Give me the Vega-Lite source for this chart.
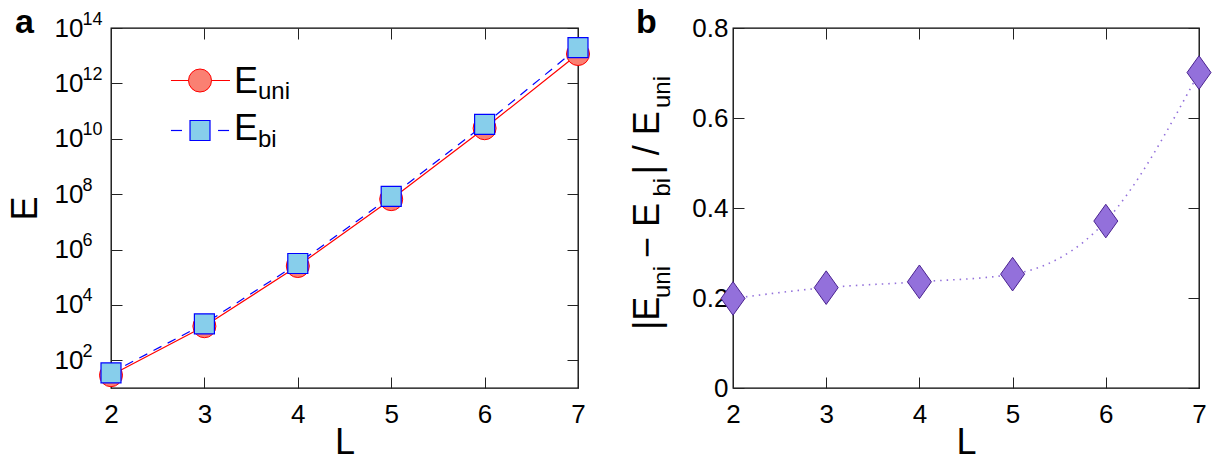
{
  "$schema": "https://vega.github.io/schema/vega-lite/v6.json",
  "background": "white",
  "padding": {"left": 6, "top": 5, "right": 0, "bottom": 0},
  "autosize": {"type": "pad"},
  "spacing": 155,
  "bounds": "flush",
  "config": {
    "font": "Liberation Sans",
    "view": {"stroke": "#000", "strokeWidth": 1.3},
    "axis": {"domain": false, "grid": false, "labelFont": "Liberation Sans", "titleFont": "Liberation Sans", "labelColor": "#000", "titleColor": "#000", "titleFontWeight": "normal", "tickColor": "#222", "tickWidth": 1, "labelFontSize": 26, "titleFontSize": 36, "labelFlush": false, "labelOverlap": false, "labelBound": false},
    "text": {"font": "Liberation Sans", "color": "#000"}
  },
  "datasets": {
    "uni": [{"L": 2, "E": 29}, {"L": 3, "E": 1700}, {"L": 4, "E": 254000}, {"L": 5, "E": 66000000}, {"L": 6, "E": 24000000000}, {"L": 7, "E": 11500000000000}],
    "bi": [{"L": 2, "E": 35}, {"L": 3, "E": 2080}, {"L": 4, "E": 313000}, {"L": 5, "E": 83000000}, {"L": 6, "E": 33000000000}, {"L": 7, "E": 19500000000000}],
    "ratio": [{"L": 2, "R": 0.199}, {"L": 3, "R": 0.223}, {"L": 4, "R": 0.236}, {"L": 5, "R": 0.253}, {"L": 6, "R": 0.371}, {"L": 7, "R": 0.701}]
  },
  "hconcat": [
    {
      "width": 467,
      "height": 360,
      "resolve": {"axis": {"x": "independent", "y": "independent"}},
      "layer": [
        {
          "data": {"name": "uni"},
          "mark": {"type": "line", "color": "#ff0000", "strokeWidth": 1.2},
          "encoding": {
            "x": {"field": "L", "type": "quantitative", "scale": {"domain": [2, 7], "nice": false, "zero": false},
                  "axis": {"orient": "bottom", "values": [2, 3, 4, 5, 6, 7], "labels": false, "title": null, "tickSize": -11}},
            "y": {"field": "E", "type": "quantitative", "scale": {"type": "log", "domain": [10, 100000000000000], "nice": false},
                  "axis": {"orient": "left", "values": [100, 10000, 1000000, 100000000, 10000000000, 1000000000000, 100000000000000], "labels": false, "title": null, "tickSize": -11}}
          }
        },
        {
          "data": {"name": "uni"},
          "mark": {"type": "point", "shape": "circle", "size": 529, "filled": true, "fill": "#fa8072", "stroke": "#ff0000", "strokeWidth": 1, "opacity": 1},
          "encoding": {
            "x": {"field": "L", "type": "quantitative", "axis": {"orient": "top", "values": [2, 3, 4, 5, 6, 7], "labels": false, "title": null, "tickSize": -11}},
            "y": {"field": "E", "type": "quantitative", "axis": {"orient": "right", "values": [100, 10000, 1000000, 100000000, 10000000000, 1000000000000, 100000000000000], "labels": false, "title": null, "tickSize": -11}}
          }
        },
        {
          "data": {"name": "bi"},
          "mark": {"type": "line", "color": "#0000ff", "strokeWidth": 1.2, "strokeDash": [9, 7]},
          "encoding": {
            "x": {"field": "L", "type": "quantitative", "axis": {"orient": "bottom", "values": [2, 3, 4, 5, 6, 7], "ticks": false, "labelPadding": 13, "title": "L", "titlePadding": -2, "format": "d"}},
            "y": {"field": "E", "type": "quantitative", "axis": {"orient": "left", "values": [100, 10000, 1000000, 100000000, 10000000000, 1000000000000, 100000000000000], "ticks": false, "labelPadding": 28, "labelExpr": "'10'", "title": "E", "titlePadding": 10}}
          }
        },
        {
          "data": {"name": "bi"},
          "mark": {"type": "point", "shape": "square", "size": 400, "filled": true, "fill": "#87ceeb", "stroke": "#0000ff", "strokeWidth": 1.2, "opacity": 1},
          "encoding": {
            "x": {"field": "L", "type": "quantitative", "axis": null},
            "y": {"field": "E", "type": "quantitative", "axis": {"orient": "left", "values": [100, 10000, 1000000, 100000000, 10000000000, 1000000000000, 100000000000000], "ticks": false, "labelPadding": 29, "labelAlign": "left", "labelBaseline": "middle", "labelFontSize": 18, "labelOffset": -9, "labelExpr": "'' + round(log(datum.value) / LN10)", "title": null}}
          }
        },
        {
          "data": {"values": [{"t": "a"}]},
          "mark": {"type": "text", "align": "left", "baseline": "alphabetic", "fontSize": 34, "fontWeight": "bold"},
          "encoding": {
            "x": {"datum": 0.972, "type": "quantitative", "axis": null},
            "y": {"datum": 65900000000000, "type": "quantitative", "axis": null},
            "text": {"field": "t"}
          }
        },
        {
          "data": {"values": [{"s": "E_uni"}]},
          "mark": {"type": "rule", "color": "#ff0000", "strokeWidth": 1.2},
          "encoding": {
            "x": {"datum": 2.642, "type": "quantitative", "axis": null},
            "x2": {"datum": 3.274},
            "y": {"datum": 1270000000000, "type": "quantitative", "axis": null}
          }
        },
        {
          "data": {"values": [{"s": "E_uni"}]},
          "mark": {"type": "point", "shape": "circle", "size": 529, "filled": true, "fill": "#fa8072", "stroke": "#ff0000", "strokeWidth": 1, "opacity": 1},
          "encoding": {
            "x": {"datum": 2.953, "type": "quantitative", "axis": null},
            "y": {"datum": 1270000000000, "type": "quantitative", "axis": null}
          }
        },
        {
          "data": {"values": [{"s": "E_bi"}]},
          "mark": {"type": "rule", "color": "#0000ff", "strokeWidth": 1.2},
          "encoding": {
            "x": {"datum": 2.642, "type": "quantitative", "axis": null},
            "x2": {"datum": 2.76},
            "y": {"datum": 19900000000, "type": "quantitative", "axis": null}
          }
        },
        {
          "data": {"values": [{"s": "E_bi"}]},
          "mark": {"type": "rule", "color": "#0000ff", "strokeWidth": 1.2},
          "encoding": {
            "x": {"datum": 3.146, "type": "quantitative", "axis": null},
            "x2": {"datum": 3.264},
            "y": {"datum": 19900000000, "type": "quantitative", "axis": null}
          }
        },
        {
          "data": {"values": [{"s": "E_bi"}]},
          "mark": {"type": "point", "shape": "square", "size": 400, "filled": true, "fill": "#87ceeb", "stroke": "#0000ff", "strokeWidth": 1.2, "opacity": 1},
          "encoding": {
            "x": {"datum": 2.953, "type": "quantitative", "axis": null},
            "y": {"datum": 19900000000, "type": "quantitative", "axis": null}
          }
        },
        {
          "data": {"values": [{"main": "E"}]},
          "mark": {"type": "text", "align": "left", "baseline": "alphabetic", "fontSize": 36},
          "encoding": {
            "x": {"datum": 3.317, "type": "quantitative", "axis": null},
            "y": {"datum": 450000000000, "type": "quantitative", "axis": null},
            "text": {"field": "main"}
          }
        },
        {
          "data": {"values": [{"sub": "uni"}]},
          "mark": {"type": "text", "align": "left", "baseline": "alphabetic", "fontSize": 24, "dy": 6},
          "encoding": {
            "x": {"datum": 3.574, "type": "quantitative", "axis": null},
            "y": {"datum": 450000000000, "type": "quantitative", "axis": null},
            "text": {"field": "sub"}
          }
        },
        {
          "data": {"values": [{"main": "E"}]},
          "mark": {"type": "text", "align": "left", "baseline": "alphabetic", "fontSize": 36},
          "encoding": {
            "x": {"datum": 3.317, "type": "quantitative", "axis": null},
            "y": {"datum": 9000000000, "type": "quantitative", "axis": null},
            "text": {"field": "main"}
          }
        },
        {
          "data": {"values": [{"sub": "bi"}]},
          "mark": {"type": "text", "align": "left", "baseline": "alphabetic", "fontSize": 24, "dy": 7},
          "encoding": {
            "x": {"datum": 3.574, "type": "quantitative", "axis": null},
            "y": {"datum": 9000000000, "type": "quantitative", "axis": null},
            "text": {"field": "sub"}
          }
        }
      ]
    },
    {
      "width": 466,
      "height": 360,
      "resolve": {"axis": {"x": "independent", "y": "independent"}},
      "layer": [
        {
          "data": {"name": "ratio"},
          "mark": {"type": "line", "color": "#9370db", "strokeWidth": 1.6, "strokeDash": [1.5, 5], "interpolate": "monotone"},
          "encoding": {
            "x": {"field": "L", "type": "quantitative", "scale": {"domain": [2, 7], "nice": false, "zero": false},
                  "axis": {"orient": "bottom", "values": [2, 3, 4, 5, 6, 7], "labels": false, "title": null, "tickSize": -11}},
            "y": {"field": "R", "type": "quantitative", "scale": {"domain": [0, 0.8], "nice": false},
                  "axis": {"orient": "left", "values": [0, 0.2, 0.4, 0.6, 0.8], "labels": false, "title": null, "tickSize": -11}}
          }
        },
        {
          "data": {"name": "ratio"},
          "mark": {"type": "point", "shape": "M0,-1.4L1,0L0,1.4L-1,0Z", "size": 576, "filled": true, "fill": "#9370db", "stroke": "#4b2390", "strokeWidth": 1, "opacity": 1},
          "encoding": {
            "x": {"field": "L", "type": "quantitative", "axis": {"orient": "bottom", "values": [2, 3, 4, 5, 6, 7], "ticks": false, "labelPadding": 13, "title": "L", "titlePadding": -2, "format": "d"}},
            "y": {"field": "R", "type": "quantitative", "axis": {"orient": "left", "values": [0, 0.2, 0.4, 0.6, 0.8], "ticks": false, "labelPadding": 5, "labelExpr": "datum.value == 0 ? '0' : format(datum.value, '.1f')", "title": null}}
          }
        },
        {
          "data": {"values": [{"t": "b"}]},
          "mark": {"type": "text", "align": "left", "baseline": "alphabetic", "fontSize": 34, "fontWeight": "bold"},
          "encoding": {
            "x": {"datum": 0.9592, "type": "quantitative", "axis": {"orient": "top", "values": [2, 3, 4, 5, 6, 7], "labels": false, "title": null, "tickSize": -11}},
            "y": {"datum": 0.7889, "type": "quantitative", "axis": {"orient": "right", "values": [0, 0.2, 0.4, 0.6, 0.8], "labels": false, "title": null, "tickSize": -11}},
            "text": {"field": "t"}
          }
        },
        {
          "data": {"values": [{"t": "|E"}]},
          "mark": {"type": "text", "angle": 270, "align": "left", "baseline": "alphabetic", "fontSize": 36},
          "encoding": {
            "x": {"datum": 1.206, "type": "quantitative", "axis": null},
            "y": {"datum": 0.1289, "type": "quantitative", "axis": null},
            "text": {"field": "t"}
          }
        },
        {
          "data": {"values": [{"t": "uni"}]},
          "mark": {"type": "text", "angle": 270, "align": "left", "baseline": "alphabetic", "fontSize": 24, "dy": 11},
          "encoding": {
            "x": {"datum": 1.206, "type": "quantitative", "axis": null},
            "y": {"datum": 0.2, "type": "quantitative", "axis": null},
            "text": {"field": "t"}
          }
        },
        {
          "data": {"values": [{"t": " − E"}]},
          "mark": {"type": "text", "angle": 270, "align": "left", "baseline": "alphabetic", "fontSize": 36},
          "encoding": {
            "x": {"datum": 1.206, "type": "quantitative", "axis": null},
            "y": {"datum": 0.2889, "type": "quantitative", "axis": null},
            "text": {"field": "t"}
          }
        },
        {
          "data": {"values": [{"t": "bi"}]},
          "mark": {"type": "text", "angle": 270, "align": "left", "baseline": "alphabetic", "fontSize": 24, "dy": 11},
          "encoding": {
            "x": {"datum": 1.206, "type": "quantitative", "axis": null},
            "y": {"datum": 0.4256, "type": "quantitative", "axis": null},
            "text": {"field": "t"}
          }
        },
        {
          "data": {"values": [{"t": "| / E"}]},
          "mark": {"type": "text", "angle": 270, "align": "left", "baseline": "alphabetic", "fontSize": 36},
          "encoding": {
            "x": {"datum": 1.206, "type": "quantitative", "axis": null},
            "y": {"datum": 0.4744, "type": "quantitative", "axis": null},
            "text": {"field": "t"}
          }
        },
        {
          "data": {"values": [{"t": "uni"}]},
          "mark": {"type": "text", "angle": 270, "align": "left", "baseline": "alphabetic", "fontSize": 24, "dy": 11},
          "encoding": {
            "x": {"datum": 1.206, "type": "quantitative", "axis": null},
            "y": {"datum": 0.6222, "type": "quantitative", "axis": null},
            "text": {"field": "t"}
          }
        }
      ]
    }
  ]
}
